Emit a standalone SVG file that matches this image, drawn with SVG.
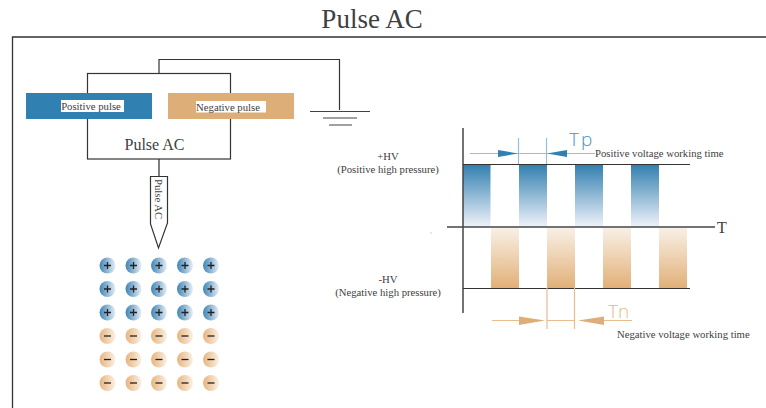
<svg xmlns="http://www.w3.org/2000/svg" width="766" height="408" viewBox="0 0 766 408">
<style>
text{font-family:"Liberation Serif","Times New Roman",serif;fill:#404040}
.w{fill:none;stroke:#333;stroke-width:1.2}
.ax{fill:none;stroke:#444;stroke-width:1.5}
.lb{font-size:10.7px}
.tb{stroke:#8fc0dc;stroke-width:1.2;fill:none}
.tt{stroke:#e8bd8e;stroke-width:1.2;fill:none}
.tp{font-family:"Open Sans","Liberation Sans",sans-serif;font-weight:300;font-size:19px}
.pos{fill:url(#gp)}.neg{fill:url(#gn)}
.bp{fill:url(#bp)}.bn{fill:url(#bn)}
.sg{stroke:#222;stroke-width:1.3;fill:none}
</style>
<defs>
<linearGradient id="bp" x1="0" y1="0" x2="1" y2="0"><stop offset="0" stop-color="#3f85b5"/><stop offset="1" stop-color="#e6edf6"/></linearGradient>
<linearGradient id="bn" x1="0" y1="0" x2="1" y2="0"><stop offset="0" stop-color="#e8b47e"/><stop offset="1" stop-color="#faf0e4"/></linearGradient>
<linearGradient id="gp" x1="0" y1="0" x2="0" y2="1"><stop offset="0" stop-color="#3380b0"/><stop offset="1" stop-color="#f0f3fa"/></linearGradient>
<linearGradient id="gn" x1="0" y1="0" x2="0" y2="1"><stop offset="0" stop-color="#f8f0e6"/><stop offset="1" stop-color="#e2b078"/></linearGradient>
<g id="pc"><circle r="8" class="bp"/><path d="M-3.500 0H3.500M0-3.500V3.500" class="sg"/></g>
<g id="nc"><circle r="8" class="bn"/><path d="M-3.500 0H3.500" class="sg"/></g>
</defs>
<text id="title" x="372" y="28" font-size="27" text-anchor="middle">Pulse AC</text>
<path id="frame" d="M12.500 408V37H766" fill="none" stroke="#333" stroke-width="1.300"/>
<g id="connectors">
<path class="w" d="M159 73.500V59.500H339.500V110"/>
<path d="M159 159V176" fill="none" stroke="#555" stroke-width="1.500"/>
</g>
<g id="supply"><rect x="87.500" y="73.500" width="143" height="85.500" class="w"/>
<text x="154.500" y="149.500" font-size="16" text-anchor="middle">Pulse AC</text></g>
<g id="positive-pulse"><rect x="26" y="93" width="126" height="26" fill="#3080b2"/><rect x="61" y="100" width="63" height="12" fill="#fff"/>
<text x="91" y="109.500" class="lb" text-anchor="middle">Positive pulse</text></g>
<g id="negative-pulse"><rect x="168" y="93" width="126" height="26" fill="#deae78"/><rect x="196" y="101" width="70" height="11.500" fill="#fff"/>
<text x="228" y="110.500" class="lb" text-anchor="middle">Negative pulse</text></g>
<g id="ground"><path d="M310 111.500H370M323 118H357M329 125H352" fill="none" stroke="#444" stroke-width="1.200"/></g>
<g id="probe"><path d="M150.500 176.500H167.500V223L158.500 248L150.500 224Z" class="w"/>
<text transform="translate(155 179) rotate(90)" class="lb">Pulse AC</text></g>
<g id="ions">
<use href="#pc" x="107.500" y="265.500"/><use href="#pc" x="133.500" y="265.500"/><use href="#pc" x="159" y="265.500"/><use href="#pc" x="185" y="265.500"/><use href="#pc" x="211" y="265.500"/>
<use href="#pc" x="107.500" y="289"/><use href="#pc" x="133.500" y="289"/><use href="#pc" x="159" y="289"/><use href="#pc" x="185" y="289"/><use href="#pc" x="211" y="289"/>
<use href="#pc" x="107.500" y="312.500"/><use href="#pc" x="133.500" y="312.500"/><use href="#pc" x="159" y="312.500"/><use href="#pc" x="185" y="312.500"/><use href="#pc" x="211" y="312.500"/>
<use href="#nc" x="107.500" y="336"/><use href="#nc" x="133.500" y="336"/><use href="#nc" x="159" y="336"/><use href="#nc" x="185" y="336"/><use href="#nc" x="211" y="336"/>
<use href="#nc" x="107.500" y="359.500"/><use href="#nc" x="133.500" y="359.500"/><use href="#nc" x="159" y="359.500"/><use href="#nc" x="185" y="359.500"/><use href="#nc" x="211" y="359.500"/>
<use href="#nc" x="107.500" y="383"/><use href="#nc" x="133.500" y="383"/><use href="#nc" x="159" y="383"/><use href="#nc" x="185" y="383"/><use href="#nc" x="211" y="383"/>
</g>
<g id="waveform">
<rect x="463" y="165" width="27.500" height="62" class="pos"/><rect x="519" y="165" width="28" height="62" class="pos"/><rect x="575" y="165" width="28" height="62" class="pos"/><rect x="631" y="165" width="28" height="62" class="pos"/>
<rect x="491" y="228" width="28" height="60" class="neg"/><rect x="547" y="228" width="28" height="60" class="neg"/><rect x="603" y="228" width="28" height="60" class="neg"/><rect x="659" y="228" width="28" height="60" class="neg"/>
<path class="ax" d="M463 128V313"/>
<path d="M463 164.500H690M463 288.500H690" fill="none" stroke="#333" stroke-width="1.200"/>
<path d="M447 227H715" fill="none" stroke="#444" stroke-width="1.600"/>
<text x="717" y="233" font-size="16">T</text>
<path d="M430.500 233H431.500" stroke="#999" stroke-width="1" fill="none"/>
</g>
<g id="tp-dimension">
<path class="tb" d="M518.500 138V164M546.500 138V164M470 153.500H595"/>
<path d="M498 150L518 153.500L498 157ZM567 150L547 153.500L567 157Z" fill="#3080b2"/>
<text x="569" y="146" class="tp" style="fill:#4a94c0" letter-spacing="2">Tp</text>
<text x="595" y="157" class="lb">Positive voltage working time</text>
</g>
<g id="tn-dimension">
<path class="tt" d="M547 288V329M574.500 288V329M492 320.500H519M547 320.500H574.500M604 320.500H632"/>
<path d="M519 316.500L545 320.500L519 325ZM604 316.500L578 320.500L604 325Z" fill="#deae78"/>
<text x="608" y="318" class="tp" style="fill:#e8ba88">Tn</text>
<text x="617" y="338" class="lb">Negative voltage working time</text>
</g>
<g id="hv-labels">
<text x="388" y="160" class="lb" text-anchor="middle">+HV</text>
<text x="388" y="173" class="lb" text-anchor="middle">(Positive high pressure)</text>
<text x="388" y="283" class="lb" text-anchor="middle">-HV</text>
<text x="388" y="296" class="lb" text-anchor="middle">(Negative high pressure)</text>
</g>
</svg>
